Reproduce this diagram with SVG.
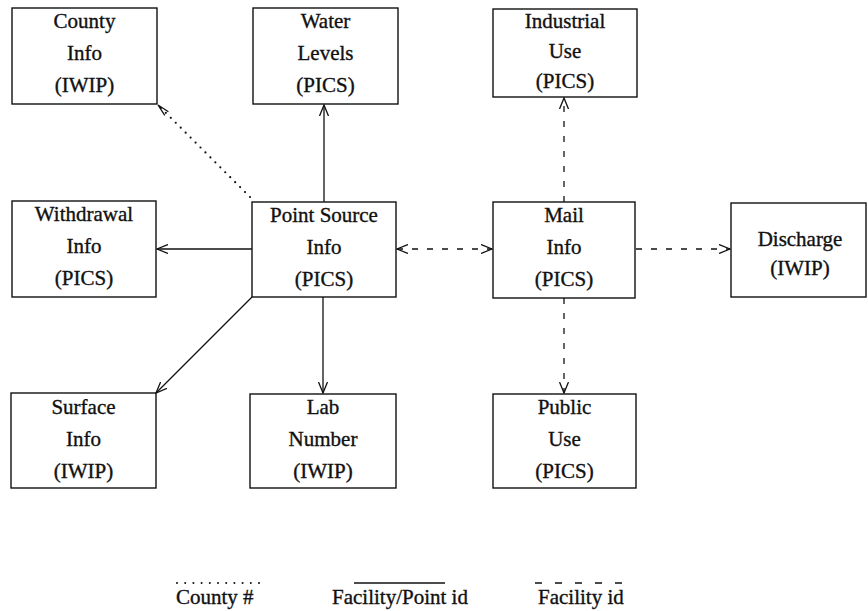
<svg xmlns="http://www.w3.org/2000/svg" width="868" height="611" viewBox="0 0 868 611">
<style>
.box{fill:#fff;stroke:#111;stroke-width:1.4}
.t{font-family:"Liberation Serif","Times New Roman",serif;font-size:21px;fill:#111;stroke:#111;stroke-width:0.35;text-anchor:middle}
.lt{font-family:"Liberation Serif","Times New Roman",serif;font-size:21px;fill:#111;stroke:#111;stroke-width:0.35}
.solid{stroke:#111;stroke-width:1.3;fill:none}
.dash{stroke:#111;stroke-width:1.3;fill:none;stroke-dasharray:6 9}
.dot{stroke:#111;stroke-width:2.2;fill:none;stroke-dasharray:0 7;stroke-linecap:round}
</style>
<defs>
<marker id="ah" viewBox="0 0 12 10" refX="11" refY="5" markerWidth="12" markerHeight="10" markerUnits="userSpaceOnUse" orient="auto-start-reverse">
<path d="M0,0.5 L11,5 L0,9.5" fill="none" stroke="#111" stroke-width="1.3"/>
</marker>
</defs>
<rect width="868" height="611" fill="#fff"/>
<g id="connectors">
<line class="solid" x1="324" y1="202" x2="324" y2="105" marker-end="url(#ah)"/>
<line class="solid" x1="252" y1="249" x2="157" y2="249" marker-end="url(#ah)"/>
<line class="solid" x1="323" y1="297" x2="323" y2="393" marker-end="url(#ah)"/>
<line class="solid" x1="252" y1="297" x2="156" y2="393" marker-end="url(#ah)"/>
<line class="dot" x1="250" y1="197" x2="160" y2="107"/>
<polyline points="164.8,115.4 158,105 168.4,111.8" fill="none" stroke="#111" stroke-width="1.3"/>
<line class="dash" x1="397" y1="249" x2="492" y2="249" marker-start="url(#ah)" marker-end="url(#ah)"/>
<line class="dash" x1="636" y1="249" x2="730" y2="249" marker-end="url(#ah)"/>
<line class="dash" x1="564" y1="202" x2="564" y2="98" marker-end="url(#ah)"/>
<line class="dash" x1="564" y1="298" x2="564" y2="393" marker-end="url(#ah)"/>
</g>
<g id="county-info"><rect class="box" x="12" y="8" width="145" height="96"/>
<text class="t" x="84.5" y="28">County</text><text class="t" x="84.5" y="60">Info</text><text class="t" x="84.5" y="92">(IWIP)</text></g>
<g id="water-levels"><rect class="box" x="253" y="8" width="145" height="96"/>
<text class="t" x="325.5" y="28">Water</text><text class="t" x="325.5" y="60">Levels</text><text class="t" x="325.5" y="92">(PICS)</text></g>
<g id="industrial-use"><rect class="box" x="493" y="9" width="144" height="88"/>
<text class="t" x="565" y="28">Industrial</text><text class="t" x="565" y="58">Use</text><text class="t" x="565" y="88">(PICS)</text></g>
<g id="withdrawal-info"><rect class="box" x="12" y="201" width="144" height="96"/>
<text class="t" x="84" y="221">Withdrawal</text><text class="t" x="84" y="253">Info</text><text class="t" x="84" y="285">(PICS)</text></g>
<g id="point-source-info"><rect class="box" x="252" y="202" width="144" height="95"/>
<text class="t" x="324" y="222">Point Source</text><text class="t" x="324" y="254">Info</text><text class="t" x="324" y="286">(PICS)</text></g>
<g id="mail-info"><rect class="box" x="493" y="202" width="142" height="96"/>
<text class="t" x="564" y="222">Mail</text><text class="t" x="564" y="254">Info</text><text class="t" x="564" y="286">(PICS)</text></g>
<g id="discharge"><rect class="box" x="731" y="203" width="135" height="94"/>
<text class="t" x="800" y="246">Discharge</text><text class="t" x="800" y="275">(IWIP)</text></g>
<g id="surface-info"><rect class="box" x="11" y="393" width="145" height="95"/>
<text class="t" x="83.5" y="414">Surface</text><text class="t" x="83.5" y="446">Info</text><text class="t" x="83.5" y="478">(IWIP)</text></g>
<g id="lab-number"><rect class="box" x="250" y="394" width="146" height="94"/>
<text class="t" x="323" y="414">Lab</text><text class="t" x="323" y="446">Number</text><text class="t" x="323" y="478">(IWIP)</text></g>
<g id="public-use"><rect class="box" x="493" y="394" width="143" height="94"/>
<text class="t" x="564.5" y="414">Public</text><text class="t" x="564.5" y="446">Use</text><text class="t" x="564.5" y="478">(PICS)</text></g>
<g id="legend">
<line class="dot" x1="177" y1="583" x2="267" y2="583" style="stroke-dasharray:0 8.2;stroke-width:2"/>
<text class="lt" x="176" y="604">County #</text>
<line class="solid" x1="354" y1="583" x2="445" y2="583"/>
<text class="lt" x="332" y="604">Facility/Point id</text>
<line class="dash" x1="535" y1="583" x2="624" y2="583" style="stroke-dasharray:7 13"/>
<text class="lt" x="538" y="604">Facility id</text>
</g>
</svg>
